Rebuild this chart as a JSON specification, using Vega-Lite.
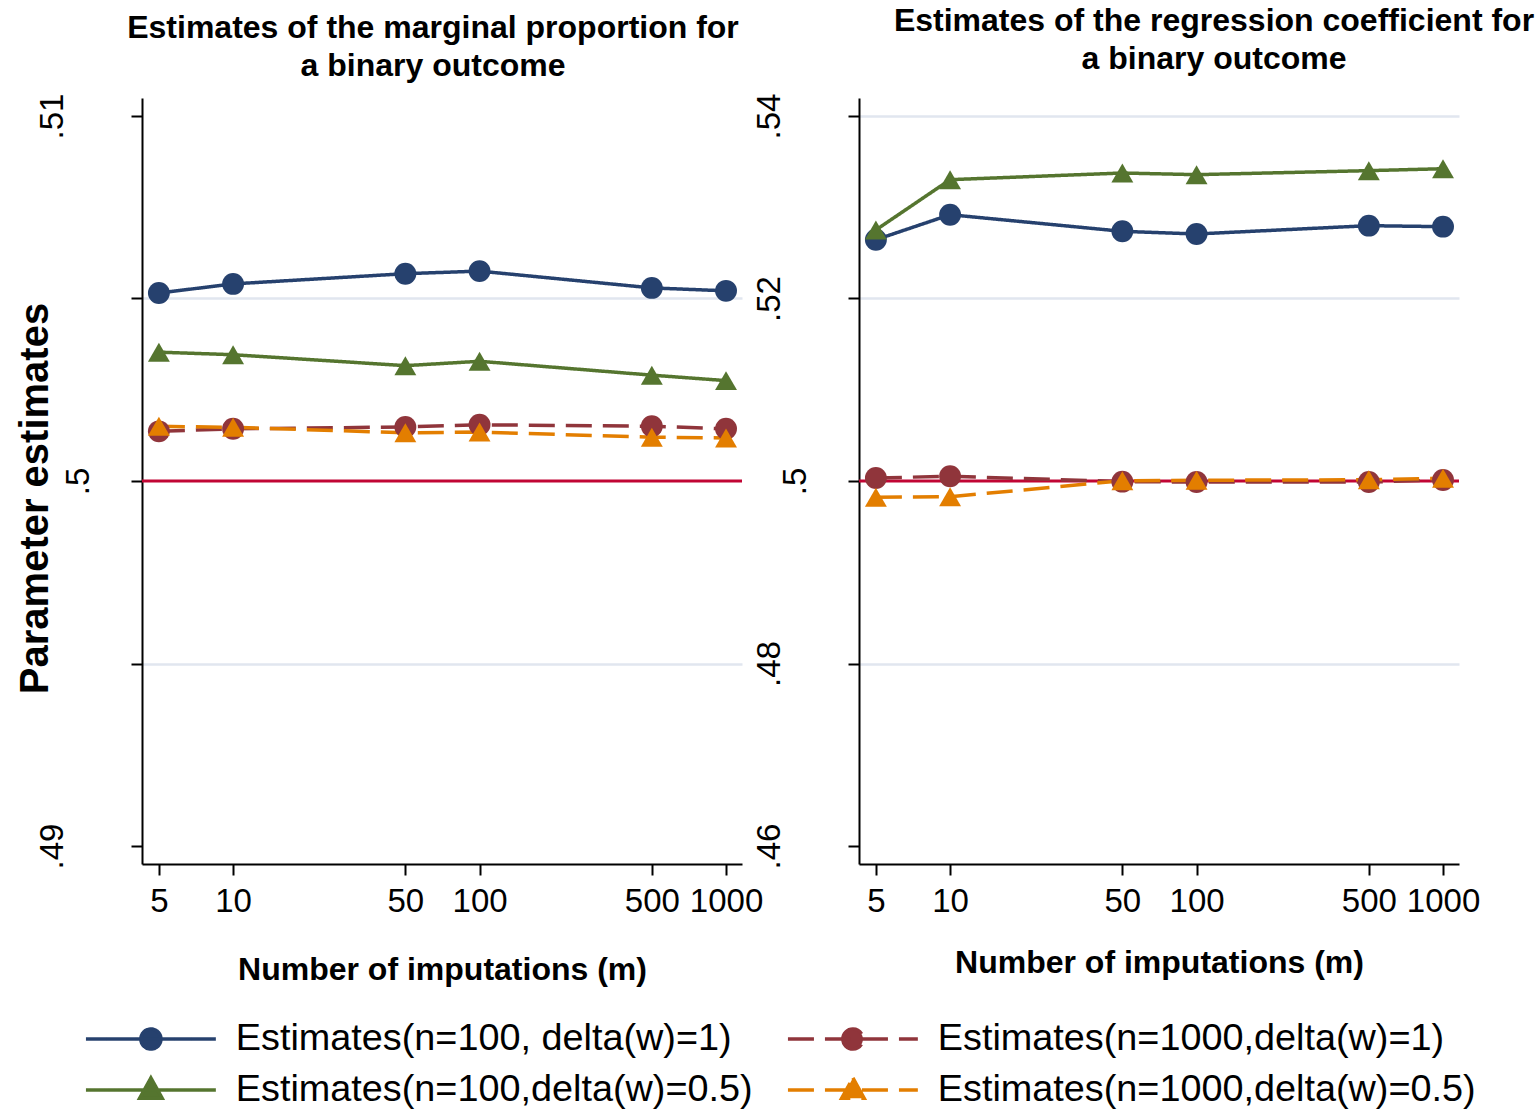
{
  "$schema": "https://vega.github.io/schema/vega-lite/v6.json",
  "background": "white",
  "padding": {"left": 15, "top": 5, "right": 5, "bottom": 5},
  "config": {
    "font": "Liberation Sans",
    "view": {"stroke": null},
    "axis": {
      "domainColor": "black", "domainWidth": 2, "tickColor": "black", "tickWidth": 2, "tickSize": 11,
      "labelColor": "black", "titleColor": "black", "labelFont": "Liberation Sans", "titleFont": "Liberation Sans",
      "gridColor": "#e1e6ef", "gridWidth": 2.5
    }
  },
  "datasets": {
    "left": [
      {"m": 5, "series": "Estimates(n=100, delta(w)=1)", "value": 0.50515},
      {"m": 10, "series": "Estimates(n=100, delta(w)=1)", "value": 0.5054},
      {"m": 50, "series": "Estimates(n=100, delta(w)=1)", "value": 0.50568},
      {"m": 100, "series": "Estimates(n=100, delta(w)=1)", "value": 0.50575},
      {"m": 500, "series": "Estimates(n=100, delta(w)=1)", "value": 0.50529},
      {"m": 1000, "series": "Estimates(n=100, delta(w)=1)", "value": 0.50521},
      {"m": 5, "series": "Estimates(n=100,delta(w)=0.5)", "value": 0.50353},
      {"m": 10, "series": "Estimates(n=100,delta(w)=0.5)", "value": 0.50346},
      {"m": 50, "series": "Estimates(n=100,delta(w)=0.5)", "value": 0.50316},
      {"m": 100, "series": "Estimates(n=100,delta(w)=0.5)", "value": 0.50328},
      {"m": 500, "series": "Estimates(n=100,delta(w)=0.5)", "value": 0.5029},
      {"m": 1000, "series": "Estimates(n=100,delta(w)=0.5)", "value": 0.50275},
      {"m": 5, "series": "Estimates(n=1000,delta(w)=1)", "value": 0.50136},
      {"m": 10, "series": "Estimates(n=1000,delta(w)=1)", "value": 0.50143},
      {"m": 50, "series": "Estimates(n=1000,delta(w)=1)", "value": 0.50148},
      {"m": 100, "series": "Estimates(n=1000,delta(w)=1)", "value": 0.50154},
      {"m": 500, "series": "Estimates(n=1000,delta(w)=1)", "value": 0.5015},
      {"m": 1000, "series": "Estimates(n=1000,delta(w)=1)", "value": 0.50143},
      {"m": 5, "series": "Estimates(n=1000,delta(w)=0.5)", "value": 0.5015},
      {"m": 10, "series": "Estimates(n=1000,delta(w)=0.5)", "value": 0.50147},
      {"m": 50, "series": "Estimates(n=1000,delta(w)=0.5)", "value": 0.50132},
      {"m": 100, "series": "Estimates(n=1000,delta(w)=0.5)", "value": 0.50134},
      {"m": 500, "series": "Estimates(n=1000,delta(w)=0.5)", "value": 0.5012},
      {"m": 1000, "series": "Estimates(n=1000,delta(w)=0.5)", "value": 0.50118}
    ],
    "right": [
      {"m": 5, "series": "Estimates(n=100, delta(w)=1)", "value": 0.52644},
      {"m": 10, "series": "Estimates(n=100, delta(w)=1)", "value": 0.52918},
      {"m": 50, "series": "Estimates(n=100, delta(w)=1)", "value": 0.52736},
      {"m": 100, "series": "Estimates(n=100, delta(w)=1)", "value": 0.52707},
      {"m": 500, "series": "Estimates(n=100, delta(w)=1)", "value": 0.52798},
      {"m": 1000, "series": "Estimates(n=100, delta(w)=1)", "value": 0.52787},
      {"m": 5, "series": "Estimates(n=100,delta(w)=0.5)", "value": 0.52751},
      {"m": 10, "series": "Estimates(n=100,delta(w)=0.5)", "value": 0.53302},
      {"m": 50, "series": "Estimates(n=100,delta(w)=0.5)", "value": 0.53375},
      {"m": 100, "series": "Estimates(n=100,delta(w)=0.5)", "value": 0.53357},
      {"m": 500, "series": "Estimates(n=100,delta(w)=0.5)", "value": 0.53401},
      {"m": 1000, "series": "Estimates(n=100,delta(w)=0.5)", "value": 0.53422},
      {"m": 5, "series": "Estimates(n=1000,delta(w)=1)", "value": 0.50033},
      {"m": 10, "series": "Estimates(n=1000,delta(w)=1)", "value": 0.50052},
      {"m": 50, "series": "Estimates(n=1000,delta(w)=1)", "value": 0.49993},
      {"m": 100, "series": "Estimates(n=1000,delta(w)=1)", "value": 0.49989},
      {"m": 500, "series": "Estimates(n=1000,delta(w)=1)", "value": 0.49989},
      {"m": 1000, "series": "Estimates(n=1000,delta(w)=1)", "value": 0.50011},
      {"m": 5, "series": "Estimates(n=1000,delta(w)=0.5)", "value": 0.49821},
      {"m": 10, "series": "Estimates(n=1000,delta(w)=0.5)", "value": 0.49828},
      {"m": 50, "series": "Estimates(n=1000,delta(w)=0.5)", "value": 0.50003},
      {"m": 100, "series": "Estimates(n=1000,delta(w)=0.5)", "value": 0.50008},
      {"m": 500, "series": "Estimates(n=1000,delta(w)=0.5)", "value": 0.50014},
      {"m": 1000, "series": "Estimates(n=1000,delta(w)=0.5)", "value": 0.5003}
    ],
    "ref": [{"ref": 0.5}]
  },
  "spacing": -11,
  "hconcat": [
    {
      "width": 600, "height": 766,
      "title": {"text": ["Estimates of the marginal proportion for", "a binary outcome"], "fontSize": 32, "fontWeight": "bold", "lineHeight": 38, "offset": 10, "dx": -9, "color": "black"},
      "layer": [
        {
          "data": {"name": "ref"},
          "mark": {"type": "rule", "color": "#c10534", "strokeWidth": 3},
          "encoding": {"y": {"field": "ref", "type": "quantitative"}}
        },
        {
          "data": {"name": "left"},
          "mark": {"type": "line", "strokeWidth": 3.5},
          "encoding": {
            "x": {"field": "m", "type": "quantitative", "scale": {"type": "log", "domain": [4.27, 1161], "nice": false},
              "axis": {"values": [5, 10, 50, 100, 500, 1000], "format": "d", "grid": false, "labelFontSize": 33, "labelPadding": 10, "labelFlush": false, "labelOverlap": false,
                "title": "Number of imputations (m)", "titleFontSize": 32, "titleFontWeight": "bold", "titleY": 105, "titleBaseline": "middle"}},
            "y": {"field": "value", "type": "quantitative", "scale": {"domain": [0.489507, 0.510493], "nice": false, "zero": false},
              "axis": {"values": [0.49, 0.495, 0.5, 0.505, 0.51],
                "labelExpr": "datum.value == 0.495 || datum.value == 0.505 ? '' : replace(format(datum.value, '.3~f'), '0.', '.')",
                "labelAngle": -90, "labelAlign": "center", "labelBaseline": "bottom", "labelFontSize": 33,
                "labelPadding": {"condition": {"test": "datum.value == 0.5", "value": 36}, "value": 62},
                "grid": true, "gridOpacity": {"condition": {"test": "datum.value == 0.495 || datum.value == 0.505", "value": 1}, "value": 0},
                "title": "Parameter estimates", "titleFontSize": 40, "titleFontWeight": "bold", "titleX": -107, "titleY": 400, "titleAngle": -90, "titleAlign": "center", "titleBaseline": "middle"}},
            "color": {"field": "series", "type": "nominal",
              "scale": {"domain": ["Estimates(n=100, delta(w)=1)", "Estimates(n=100,delta(w)=0.5)", "Estimates(n=1000,delta(w)=1)", "Estimates(n=1000,delta(w)=0.5)"], "range": ["#26416e", "#55752f", "#90353b", "#e37e00"]},
              "legend": {"orient": "none", "legendX": -10, "legendY": 922, "columns": 2, "title": null,
                "labelFontSize": 37.8, "labelFont": "Liberation Sans", "labelColor": "black", "labelLimit": 0, "symbolSize": 900, "labelOffset": 66, "columnPadding": 27, "rowPadding": 12,
                "symbolStrokeWidth": 3.5, "symbolOpacity": 1,
                "encode": {"symbols": {"update": {
                  "shape": {"signal": "indexof(datum.value, '0.5') >= 0 ? 'M-4.33,0L4.33,0M0,-0.8L0.75,0.55L-0.75,0.55Z' : 'M-4.33,0L4.33,0M-0.67,0A0.67,0.67,0,1,1,0.67,0A0.67,0.67,0,1,1,-0.67,0Z'"},
                  "strokeDash": {"signal": "indexof(datum.value, 'n=1000') >= 0 ? [26, 11] : [1, 0]"},
                  "fill": {"signal": "scale('color', datum.value)"},
                  "stroke": {"signal": "scale('color', datum.value)"},
                  "strokeWidth": {"value": 3.5},
                  "opacity": {"value": 1}
                }}}}},
            "strokeDash": {"field": "series", "type": "nominal", "legend": null,
              "scale": {"domain": ["Estimates(n=1000,delta(w)=1)", "Estimates(n=1000,delta(w)=0.5)", "Estimates(n=100, delta(w)=1)", "Estimates(n=100,delta(w)=0.5)"], "range": [[26, 11], [26, 11], [1, 0], [1, 0]]}}
          }
        },
        {
          "data": {"name": "left"},
          "mark": {"type": "point", "filled": true, "size": 480, "opacity": 1},
          "encoding": {
            "x": {"field": "m", "type": "quantitative"},
            "y": {"field": "value", "type": "quantitative"},
            "color": {"field": "series", "type": "nominal", "scale": {"domain": ["Estimates(n=100, delta(w)=1)", "Estimates(n=100,delta(w)=0.5)", "Estimates(n=1000,delta(w)=1)", "Estimates(n=1000,delta(w)=0.5)"]}},
            "shape": {"field": "series", "type": "nominal", "legend": null,
              "scale": {"domain": ["Estimates(n=100,delta(w)=0.5)", "Estimates(n=1000,delta(w)=0.5)", "Estimates(n=100, delta(w)=1)", "Estimates(n=1000,delta(w)=1)"], "range": ["triangle-up", "triangle-up", "circle", "circle"]}}
          }
        }
      ]
    },
    {
      "width": 600, "height": 766,
      "title": {"text": ["Estimates of the regression coefficient for", "a binary outcome"], "fontSize": 32, "fontWeight": "bold", "lineHeight": 38, "offset": 17, "dx": 55, "color": "black"},
      "layer": [
        {
          "data": {"name": "ref"},
          "mark": {"type": "rule", "color": "#c10534", "strokeWidth": 3},
          "encoding": {"y": {"field": "ref", "type": "quantitative"}}
        },
        {
          "data": {"name": "right"},
          "mark": {"type": "line", "strokeWidth": 3.5},
          "encoding": {
            "x": {"field": "m", "type": "quantitative", "scale": {"type": "log", "domain": [4.27, 1161], "nice": false},
              "axis": {"values": [5, 10, 50, 100, 500, 1000], "format": "d", "grid": false, "labelFontSize": 33, "labelPadding": 10, "labelFlush": false, "labelOverlap": false,
                "title": "Number of imputations (m)", "titleFontSize": 32, "titleFontWeight": "bold", "titleY": 98, "titleBaseline": "middle"}},
            "y": {"field": "value", "type": "quantitative", "scale": {"domain": [0.45803, 0.54197], "nice": false, "zero": false},
              "axis": {"values": [0.46, 0.48, 0.5, 0.52, 0.54],
                "labelExpr": "replace(format(datum.value, '.3~f'), '0.', '.')",
                "labelAngle": -90, "labelAlign": "center", "labelBaseline": "bottom", "labelFontSize": 33,
                "labelPadding": {"condition": {"test": "datum.value == 0.5", "value": 36}, "value": 62},
                "grid": true, "gridOpacity": {"condition": {"test": "datum.value == 0.48 || datum.value == 0.52 || datum.value == 0.54", "value": 1}, "value": 0},
                "title": null}},
            "color": {"field": "series", "type": "nominal", "scale": {"domain": ["Estimates(n=100, delta(w)=1)", "Estimates(n=100,delta(w)=0.5)", "Estimates(n=1000,delta(w)=1)", "Estimates(n=1000,delta(w)=0.5)"]}},
            "strokeDash": {"field": "series", "type": "nominal", "legend": null, "scale": {"domain": ["Estimates(n=1000,delta(w)=1)", "Estimates(n=1000,delta(w)=0.5)", "Estimates(n=100, delta(w)=1)", "Estimates(n=100,delta(w)=0.5)"]}}
          }
        },
        {
          "data": {"name": "right"},
          "mark": {"type": "point", "filled": true, "size": 480, "opacity": 1},
          "encoding": {
            "x": {"field": "m", "type": "quantitative"},
            "y": {"field": "value", "type": "quantitative"},
            "color": {"field": "series", "type": "nominal", "scale": {"domain": ["Estimates(n=100, delta(w)=1)", "Estimates(n=100,delta(w)=0.5)", "Estimates(n=1000,delta(w)=1)", "Estimates(n=1000,delta(w)=0.5)"]}},
            "shape": {"field": "series", "type": "nominal", "legend": null, "scale": {"domain": ["Estimates(n=100,delta(w)=0.5)", "Estimates(n=1000,delta(w)=0.5)", "Estimates(n=100, delta(w)=1)", "Estimates(n=1000,delta(w)=1)"]}}
          }
        }
      ]
    }
  ]
}
